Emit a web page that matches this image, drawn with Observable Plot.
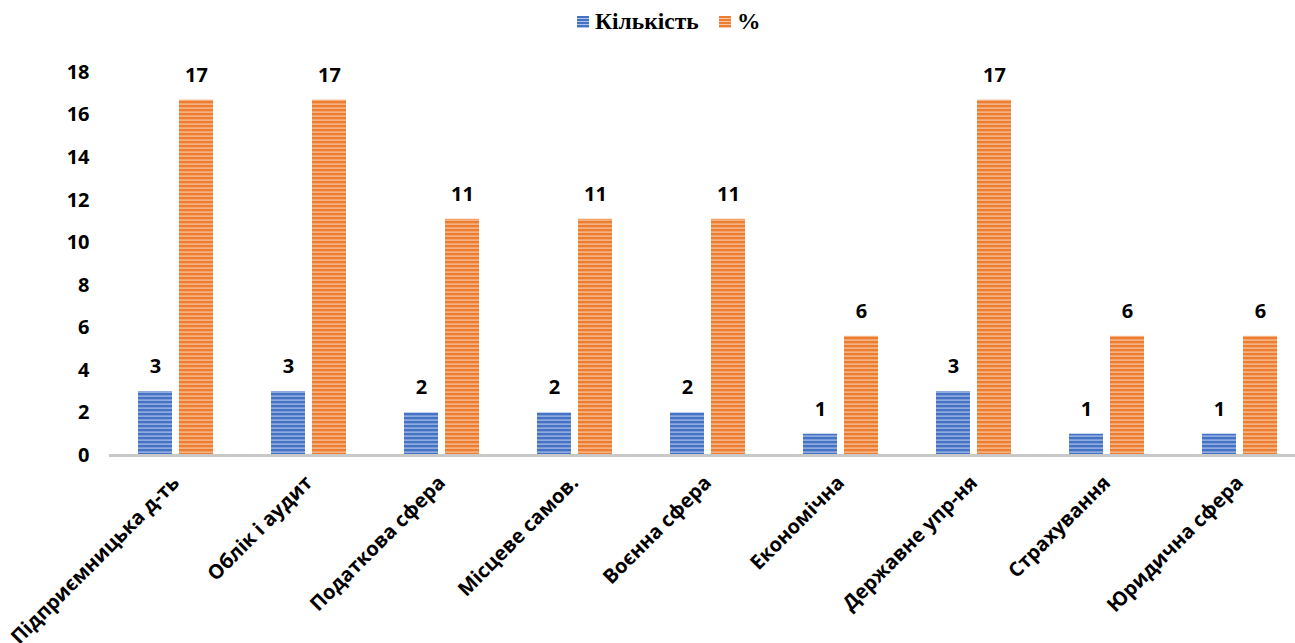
<!DOCTYPE html>
<html><head><meta charset="utf-8">
<script src="https://cdn.jsdelivr.net/npm/d3@7"></script>
<script src="https://cdn.jsdelivr.net/npm/@observablehq/plot@0.6"></script>
<style>
body{margin:0;background:#fff;}
#legend{position:relative;height:45px;width:1295px;font-family:"Liberation Serif","Times New Roman",serif;font-weight:bold;font-size:23.5px;color:#000;}
.sw{position:absolute;width:12px;height:12px;top:16px;}
.lt{position:absolute;top:9px;line-height:24px;}
</style></head><body>
<div id="legend"></div>
<div id="chart"></div>
<script>
const categories = ["Підприємницька д-ть","Облік і аудит","Податкова сфера","Місцеве самов.","Воєнна сфера","Економічна","Державне упр-ня","Страхування","Юридична сфера"];
const series = ["Кількість","%"];
const counts = [3,3,2,2,2,1,3,1,1];
const percents = [16.7,16.7,11.1,11.1,11.1,5.6,16.7,5.6,5.6];
const yTicks = [0,2,4,6,8,10,12,14,16,18];
const seriesColors = ["#4472C4","#ED7D31"];
const seriesLight = ["#AFC3EA","#F8C8A4"];

const rows = [];
categories.forEach((c,i)=>{
  rows.push({category:c, series:series[0], value:counts[i]});
  rows.push({category:c, series:series[1], value:percents[i]});
});

// legend
const leg = document.getElementById("legend");
const legPos = [[577,595],[719,737]];
series.forEach((s,i)=>{
  const sw = document.createElement("div");
  sw.className="sw";
  sw.style.left = legPos[i][0]+"px";
  sw.style.background = `repeating-linear-gradient(to bottom, ${seriesColors[i]} 0px, ${seriesColors[i]} 2px, ${seriesLight[i]} 2px, ${seriesLight[i]} 3px)`;
  leg.appendChild(sw);
  const t = document.createElement("div");
  t.className="lt"; t.style.left = legPos[i][1]+"px"; t.textContent = s;
  leg.appendChild(t);
});

const fills = ["url(#stripe0)","url(#stripe1)"];
const chart = Plot.plot({
  width:1295, height:598,
  marginLeft:108, marginRight:0, marginTop:27, marginBottom:188,
  style:{fontFamily:"'Open Sans', sans-serif", fontWeight:"bold", fontSize:"20px", color:"#000", background:"#fff"},
  fx:{domain:categories, range:[108,1306], padding:0, label:null, tickRotate:-45, tickSize:0, tickPadding:24},
  x:{domain:series, paddingInner:0.17, paddingOuter:0.67, axis:null},
  y:{domain:[0,18], ticks:yTicks, tickSize:0, tickPadding:20, label:null},
  color:{domain:series, range:fills},
  marks:[
    Plot.barY(rows,{fx:"category", x:"series", y:"value", fill:"series"}),
    Plot.ruleY([0],{stroke:"#c8c8c8", strokeWidth:3}),
    Plot.text(rows,{fx:"category", x:"series", y:"value", text:d=>String(Math.round(d.value)), dy:-25, fontSize:20, fontWeight:"bold", fill:"#000"})
  ]
});
const defs = d3.create("svg:defs");
seriesColors.forEach((c,i)=>{
  const p = defs.append("pattern").attr("id","stripe"+i).attr("patternUnits","userSpaceOnUse").attr("width",8).attr("height",4);
  p.append("rect").attr("width",8).attr("height",4).attr("fill",c);
  p.append("rect").attr("y",2.5).attr("width",8).attr("height",1.2).attr("fill",seriesLight[i]);
});
chart.insertBefore(defs.node(), chart.firstChild);
document.getElementById("chart").appendChild(chart);
</script>
</body></html>
